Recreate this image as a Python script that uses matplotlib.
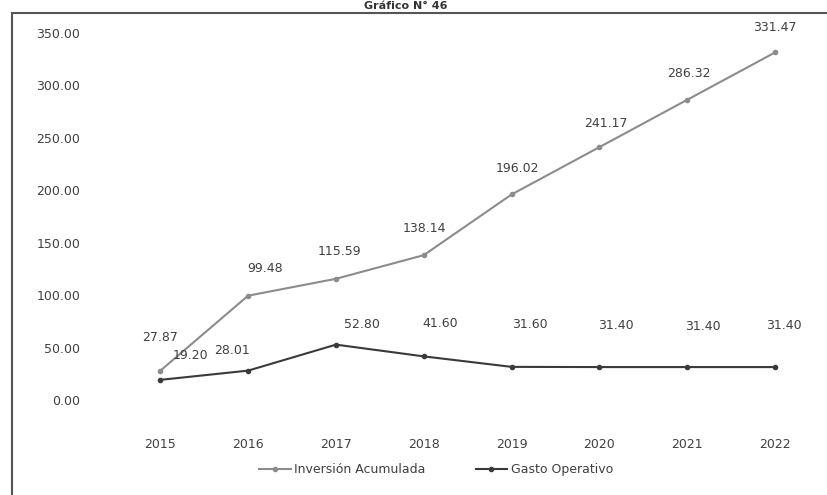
import matplotlib.pyplot as plt
from matplotlib.patches import Rectangle

years = ['2015', '2016', '2017', '2018', '2019', '2020', '2021', '2022']
inversion = [27.87, 99.48, 115.59, 138.14, 196.02, 241.17, 286.32, 331.47]
gasto = [19.20, 28.01, 52.80, 41.60, 31.60, 31.40, 31.40, 31.40]
y_ticks = [0, 50, 100, 150, 200, 250, 300, 350]

# label offsets in pixels (hand placed like the original)
inv_off = [(0, 33), (17, 27), (4, 27), (1, 27), (6, 26), (6, 24), (2, 26), (0, 25)]
gas_off = [(30, 24), (-16, 20), (26, 20), (16, 33), (18, 42), (16, 42), (16, 41), (9, 42)]

plt.rcParams['font.family'] = ['DejaVu Sans']
FS = 9

fig = plt.figure(figsize=(8.28, 4.95), dpi=100)
ax = fig.add_axes([90 / 828, 95 / 495, 729 / 828, 367 / 495])

x = list(range(len(years)))
ax.plot(x, inversion, color='#8c8c8c', lw=1.5, marker='o', ms=3,
        label='Inversión Acumulada')
ax.plot(x, gasto, color='#3a3a3a', lw=1.5, marker='o', ms=3,
        label='Gasto Operativo')

for i in x:
    ax.annotate(f'{inversion[i]:.2f}', (i, inversion[i]), xytext=inv_off[i],
                textcoords='offset pixels', ha='center', va='center',
                fontsize=FS, color='#404040')
    ax.annotate(f'{gasto[i]:.2f}', (i, gasto[i]), xytext=gas_off[i],
                textcoords='offset pixels', ha='center', va='center',
                fontsize=FS, color='#404040')

ax.set_xlim(-0.8, 7.5)
ax.set_ylim(0, 350)
ax.set_xticks(x)
ax.set_xticklabels(years)
ax.set_yticks(y_ticks)
ax.set_yticklabels([f'{v:.2f}' for v in y_ticks])
ax.tick_params(length=0, labelsize=FS, colors='#404040')
ax.tick_params(axis='x', pad=27)
ax.tick_params(axis='y', pad=7)
for s in ax.spines.values():
    s.set_visible(False)

ax.legend(loc='center', bbox_to_anchor=(0.475, -0.19), ncol=2,
          frameon=False, fontsize=FS, handlelength=2.5, columnspacing=4.0,
          labelcolor='#404040', handletextpad=0.3)

# outer frame of the scanned figure
fig.patches.append(Rectangle((12 / 828, -0.05), 1.0, 1 - 13 / 495 + 0.05,
                             transform=fig.transFigure, fill=False,
                             edgecolor='#555555', lw=1.5))
fig.text(0.49, 1 - 1 / 495, 'Gráfico N° 46', ha='center', va='top',
         fontsize=8, fontweight='bold', color='#333333')

fig.savefig('out.png', dpi=100)
